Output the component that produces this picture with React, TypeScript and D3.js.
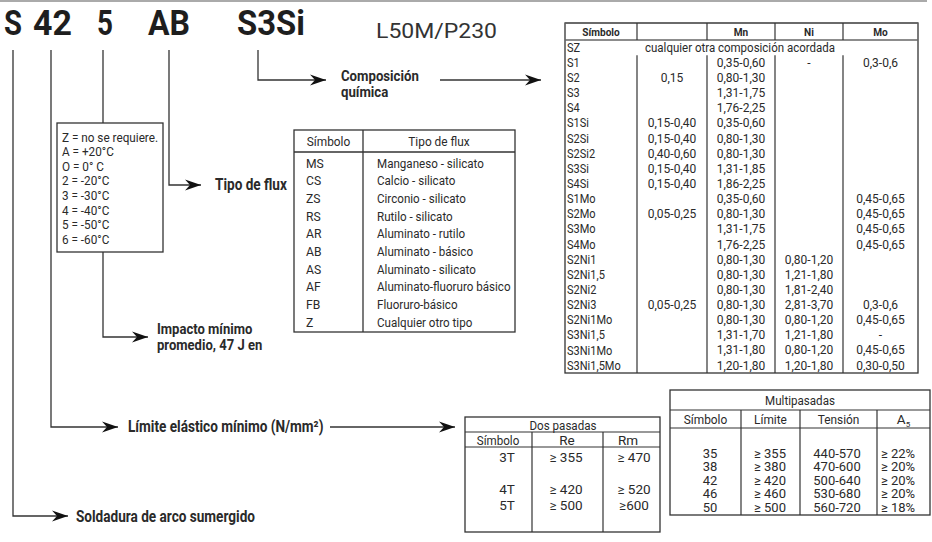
import React from "react";
import * as d3 from "d3";

// ---------- DATA ----------
const codeParts = ["S", "42", "5", "AB", "S3Si"];
const codeSuffix = "L50M/P230";

const impactLines = [
  "Z =  no se requiere.",
  "A = +20°C",
  "O = 0° C",
  "2 = -20°C",
  "3 = -30°C",
  "4 = -40°C",
  "5 = -50°C",
  "6 = -60°C",
];

const fluxHeader = ["Símbolo", "Tipo de flux"];
const fluxSymbols = ["MS", "CS", "ZS", "RS", "AR", "AB", "AS", "AF", "FB", "Z"];
const fluxTypes = [
  "Manganeso - silicato",
  "Calcio - silicato",
  "Circonio - silicato",
  "Rutilo - silicato",
  "Aluminato - rutilo",
  "Aluminato  - básico",
  "Aluminato - silicato",
  "Aluminato-fluoruro básico",
  "Fluoruro-básico",
  "Cualquier otro tipo",
];

const compHeader = ["Símbolo", "", "Mn", "Ni", "Mo"];
const compNote = "cualquier otra composición acordada";
const compSymbols = ["SZ", "S1", "S2", "S3", "S4", "S1Si", "S2Si", "S2Si2", "S3Si", "S4Si", "S1Mo", "S2Mo", "S3Mo", "S4Mo", "S2Ni1", "S2Ni1,5", "S2Ni2", "S2Ni3", "S2Ni1Mo", "S3Ni1,5", "S3Ni1Mo", "S3Ni1,5Mo"];
const compC = ["", "", "0,15", "", "", "0,15-0,40", "0,15-0,40", "0,40-0,60", "0,15-0,40", "0,15-0,40", "", "0,05-0,25", "", "", "", "", "", "0,05-0,25", "", "", "", ""];
const compMn = ["", "0,35-0,60", "0,80-1,30", "1,31-1,75", "1,76-2,25", "0,35-0,60", "0,80-1,30", "0,80-1,30", "1,31-1,85", "1,86-2,25", "0,35-0,60", "0,80-1,30", "1,31-1,75", "1,76-2,25", "0,80-1,30", "0,80-1,30", "0,80-1,30", "0,80-1,30", "0,80-1,30", "1,31-1,70", "1,31-1,80", "1,20-1,80"];
const compNi = ["", "-", "", "", "", "", "", "", "", "", "", "", "", "", "0,80-1,20", "1,21-1,80", "1,81-2,40", "2,81-3,70", "0,80-1,20", "1,21-1,80", "0,80-1,20", "1,20-1,80"];
const compMo = ["", "0,3-0,6", "", "", "", "", "", "", "", "", "0,45-0,65", "0,45-0,65", "0,45-0,65", "0,45-0,65", "", "", "", "0,3-0,6", "0,45-0,65", "-", "0,45-0,65", "0,30-0,50"];

const dosTitle = "Dos pasadas";
const dosHeader = ["Símbolo", "Re", "Rm"];
const dosSymbols = ["3T", "", "4T", "5T"];
const dosRe = ["≥ 355", "", "≥ 420", "≥ 500"];
const dosRm = ["≥ 470", "", "≥ 520", "≥600"];

const multiTitle = "Multipasadas";
const multiHeader = ["Símbolo", "Límite", "Tensión"];
const multiSymbols = ["35", "38", "42", "46", "50"];
const multiLimite = ["≥ 355", "≥ 380", "≥ 420", "≥ 460", "≥ 500"];
const multiTension = ["440-570", "470-600", "500-640", "530-680", "560-720"];
const multiA5 = ["≥ 22%", "≥ 20%", "≥ 20%", "≥ 20%", "≥ 18%"];

const labels = {
  flux: "Tipo de flux",
  comp1: "Composición",
  comp2: "química",
  imp1: "Impacto mínimo",
  imp2: "promedio, 47 J en",
  lim: "Límite elástico mínimo (N/mm²)",
  sold: "Soldadura de arco sumergido",
};

// ---------- HELPERS ----------
const FONT = "Roboto, 'Open Sans', sans-serif";
const INK = "#2a2a2a";
const LINE = "#333";

function T(props: any) {
  const { x, y, children, size = 12, weight = 400, anchor = "start", sx = 1, fill = INK, len, dy } = props;
  return (
    <text
      transform={`translate(${x},${y}) scale(${sx},1)`}
      fontSize={size}
      fontWeight={weight}
      textAnchor={anchor}
      fill={fill}
      dy={dy}
      fontFamily={FONT}
      textLength={len}
      lengthAdjust={len ? "spacingAndGlyphs" : undefined}
    >
      {children}
    </text>
  );
}

function arrowHead(tipX: number, y: number) {
  const p = d3.path();
  p.moveTo(tipX, y);
  p.lineTo(tipX - 16, y - 5.5);
  p.lineTo(tipX - 11, y);
  p.lineTo(tipX - 16, y + 5.5);
  p.closePath();
  return p.toString();
}

function Connector({ pts, tip }: { pts: [number, number][]; tip: boolean }) {
  const line = d3.line();
  const last = pts[pts.length - 1];
  return (
    <g>
      <path d={line(pts) || ""} fill="none" stroke={LINE} strokeWidth={1.3} />
      {tip && <path d={arrowHead(last[0], last[1])} fill="#111" />}
    </g>
  );
}

const BSX = 0.85; // condensing factor for bold labels

export default function App() {
  // code header layout
  const codeX = [4, 33, 97, 148, 237];
  const codeW = [18, 39, 16, 42, 68];

  // composition table
  const cx0 = 565, cx1 = 918;
  const compCols = [565, 637, 707, 775, 843, 918];
  const cTop = 23, cHead = 40, cBottom = 373;
  const cRow = d3.scaleBand<number>().domain(d3.range(compSymbols.length)).range([cHead, cBottom]);
  const cy = (i: number) => (cRow(i) as number) + cRow.bandwidth() / 2;
  const colMid = (k: number) => (compCols[k] + compCols[k + 1]) / 2;

  // flux table
  const fx0 = 294, fx1 = 515, fDiv = 363, fTop = 130, fHead = 152, fBottom = 332;
  const fRow = d3.scaleBand<number>().domain(d3.range(fluxSymbols.length)).range([154, 331]);
  const fy = (i: number) => (fRow(i) as number) + fRow.bandwidth() / 2;

  // impact box
  const iRow = d3.scaleLinear().domain([0, impactLines.length - 1]).range([137, 239]);

  // dos pasadas
  const dCols = [465, 532, 603, 660];
  const dTop = 417, dTitleB = 432, dHead = 447, dBottom = 532;
  const dRow = d3.scaleLinear().domain([0, dosSymbols.length - 1]).range([457, 505]);

  // multipasadas
  const mCols = [670, 741, 800, 877, 930];
  const mTop = 390, mTitleB = 410, mHead = 428, mBottom = 515;
  const mRow = d3.scaleLinear().domain([0, multiSymbols.length - 1]).range([453, 507]);

  return (
    <svg width={932} height={542} style={{ position: "absolute", left: 0, top: 0, background: "#fff" }}>
      <rect width={932} height={542} fill="#fff" />
      <line x1={0} x2={927} y1={1} y2={1} stroke="#aaa" strokeWidth={2} />

      {/* code */}
      {codeParts.map((c, i) => (
        <T key={c} x={codeX[i]} y={35} size={35} weight={700} len={codeW[i]} fill="#1e1e1e">{c}</T>
      ))}
      <T x={376} y={38} size={21} len={121} fill="#333">{codeSuffix}</T>

      {/* connectors */}
      <Connector pts={[[13, 50], [13, 516], [68, 516]]} tip />
      <Connector pts={[[51, 50], [51, 427], [118, 427]]} tip />
      <Connector pts={[[330, 427], [455, 427]]} tip />
      <Connector pts={[[103, 50], [103, 123]]} tip={false} />
      <Connector pts={[[103, 252], [103, 337], [148, 337]]} tip />
      <Connector pts={[[169, 50], [169, 185], [201, 185]]} tip />
      <Connector pts={[[258, 50], [258, 80], [326, 80]]} tip />
      <Connector pts={[[440, 80], [541, 80]]} tip />

      {/* bold labels */}
      <T x={215} y={190} size={16} weight={700} sx={BSX}>{labels.flux}</T>
      <T x={341} y={81} size={15} weight={700} sx={0.88}>{labels.comp1}</T>
      <T x={341} y={97} size={15} weight={700} sx={0.88}>{labels.comp2}</T>
      <T x={157} y={334} size={15} weight={700} sx={0.87}>{labels.imp1}</T>
      <T x={157} y={350} size={15} weight={700} sx={0.87}>{labels.imp2}</T>
      <T x={128} y={432} size={16} weight={700} sx={BSX}>{labels.lim}</T>
      <T x={76} y={522} size={16} weight={700} sx={BSX}>{labels.sold}</T>

      {/* impact box */}
      <rect x={57} y={123} width={106} height={129} fill="#fff" stroke={LINE} strokeWidth={1.3} />
      {impactLines.map((l, i) => (
        <T key={i} x={62} y={iRow(i)} dy="0.35em" size={13.5} sx={0.87}>{l}</T>
      ))}

      {/* flux table */}
      <rect x={fx0} y={fTop} width={fx1 - fx0} height={fBottom - fTop} fill="none" stroke={LINE} strokeWidth={1.3} />
      <line x1={fx0} x2={fx1} y1={fHead} y2={fHead} stroke={LINE} strokeWidth={1.3} />
      <line x1={fDiv} x2={fDiv} y1={fTop} y2={fBottom} stroke={LINE} strokeWidth={1.3} />
      <T x={(fx0 + fDiv) / 2} y={141} dy="0.35em" anchor="middle" size={13.5} sx={0.88}>{fluxHeader[0]}</T>
      <T x={(fDiv + fx1) / 2} y={141} dy="0.35em" anchor="middle" size={13.5} sx={0.88}>{fluxHeader[1]}</T>
      {fluxSymbols.map((s, i) => (
        <g key={s}>
          <T x={306} y={fy(i)} dy="0.35em" size={13.5} sx={0.9}>{s}</T>
          <T x={377} y={fy(i)} dy="0.35em" size={13.5} sx={0.86}>{fluxTypes[i]}</T>
        </g>
      ))}

      {/* composition table */}
      <rect x={cx0} y={cTop} width={cx1 - cx0} height={cBottom - cTop} fill="none" stroke={LINE} strokeWidth={1.3} />
      <line x1={cx0} x2={cx1} y1={cTop} y2={cTop} stroke="#666" strokeWidth={1.6} />
      <line x1={cx0} x2={cx1} y1={cHead} y2={cHead} stroke="#666" strokeWidth={1.6} />
      {compCols.slice(1, -1).map((x) => (
        <g key={x}>
          <line x1={x} x2={x} y1={cTop} y2={cHead} stroke={LINE} strokeWidth={1.2} />
          <line x1={x} x2={x} y1={(cRow(1) as number)} y2={cBottom} stroke={LINE} strokeWidth={1.2} />
        </g>
      ))}
      {compHeader.map((h, k) => (
        <T key={k} x={colMid(k)} y={32} dy="0.35em" anchor="middle" size={11} weight={700} sx={0.92}>{h}</T>
      ))}
      <T x={740} y={cy(0)} dy="0.35em" anchor="middle" size={12.5} sx={0.92}>{compNote}</T>
      {compSymbols.map((s, i) => (
        <g key={s}>
          <T x={567} y={cy(i)} dy="0.35em" size={12} sx={0.92}>{s}</T>
          {compC[i] && <T x={colMid(1)} y={cy(i)} dy="0.35em" anchor="middle" size={12}>{compC[i]}</T>}
          {compMn[i] && <T x={colMid(2)} y={cy(i)} dy="0.35em" anchor="middle" size={12}>{compMn[i]}</T>}
          {compNi[i] && <T x={colMid(3)} y={cy(i)} dy="0.35em" anchor="middle" size={12}>{compNi[i]}</T>}
          {compMo[i] && <T x={colMid(4)} y={cy(i)} dy="0.35em" anchor="middle" size={12}>{compMo[i]}</T>}
        </g>
      ))}

      {/* dos pasadas */}
      <rect x={dCols[0]} y={dTop} width={dCols[3] - dCols[0]} height={dBottom - dTop} fill="none" stroke={LINE} strokeWidth={1.3} />
      <line x1={dCols[0]} x2={dCols[3]} y1={dTitleB} y2={dTitleB} stroke={LINE} strokeWidth={1.2} />
      <line x1={dCols[0]} x2={dCols[3]} y1={dHead} y2={dHead} stroke={LINE} strokeWidth={1.2} />
      {[dCols[1], dCols[2]].map((x) => (
        <line key={x} x1={x} x2={x} y1={dTitleB} y2={dBottom} stroke={LINE} strokeWidth={1.2} />
      ))}
      <T x={563} y={425} dy="0.35em" anchor="middle" size={13.5} sx={0.86}>{dosTitle}</T>
      <T x={498} y={440} dy="0.35em" anchor="middle" size={13.5} sx={0.86}>{dosHeader[0]}</T>
      <T x={567} y={440} dy="0.35em" anchor="middle" size={13.5}>{dosHeader[1]}</T>
      <T x={628} y={440} dy="0.35em" anchor="middle" size={13.5}>{dosHeader[2]}</T>
      {dosSymbols.map((s, i) => (
        <g key={i}>
          <T x={507} y={dRow(i)} dy="0.35em" anchor="middle" size={13.5}>{s}</T>
          <T x={566} y={dRow(i)} dy="0.35em" anchor="middle" size={13.5}>{dosRe[i]}</T>
          <T x={634} y={dRow(i)} dy="0.35em" anchor="middle" size={13.5}>{dosRm[i]}</T>
        </g>
      ))}

      {/* multipasadas */}
      <rect x={mCols[0]} y={mTop} width={mCols[4] - mCols[0]} height={mBottom - mTop} fill="none" stroke={LINE} strokeWidth={1.3} />
      <line x1={mCols[0]} x2={mCols[4]} y1={mTitleB} y2={mTitleB} stroke={LINE} strokeWidth={1.2} />
      <line x1={mCols[0]} x2={mCols[4]} y1={mHead} y2={mHead} stroke={LINE} strokeWidth={1.2} />
      {mCols.slice(1, -1).map((x) => (
        <line key={x} x1={x} x2={x} y1={mTitleB} y2={mBottom} stroke={LINE} strokeWidth={1.2} />
      ))}
      <T x={800} y={400} dy="0.35em" anchor="middle" size={13.5} sx={0.86}>{multiTitle}</T>
      {multiHeader.map((h, k) => (
        <T key={k} x={(mCols[k] + mCols[k + 1]) / 2} y={419} dy="0.35em" anchor="middle" size={13.5} sx={0.88}>{h}</T>
      ))}
      <text x={(mCols[3] + mCols[4]) / 2} y={419} dy="0.35em" textAnchor="middle" fontSize={13.5} fontFamily={FONT} fill={INK}>
        A<tspan fontSize={8} dy="3">5</tspan>
      </text>
      {multiSymbols.map((s, i) => (
        <g key={s}>
          <T x={710} y={mRow(i)} dy="0.35em" anchor="middle" size={13}>{s}</T>
          <T x={770} y={mRow(i)} dy="0.35em" anchor="middle" size={13}>{multiLimite[i]}</T>
          <T x={837} y={mRow(i)} dy="0.35em" anchor="middle" size={13}>{multiTension[i]}</T>
          <T x={898} y={mRow(i)} dy="0.35em" anchor="middle" size={13}>{multiA5[i]}</T>
        </g>
      ))}
    </svg>
  );
}
